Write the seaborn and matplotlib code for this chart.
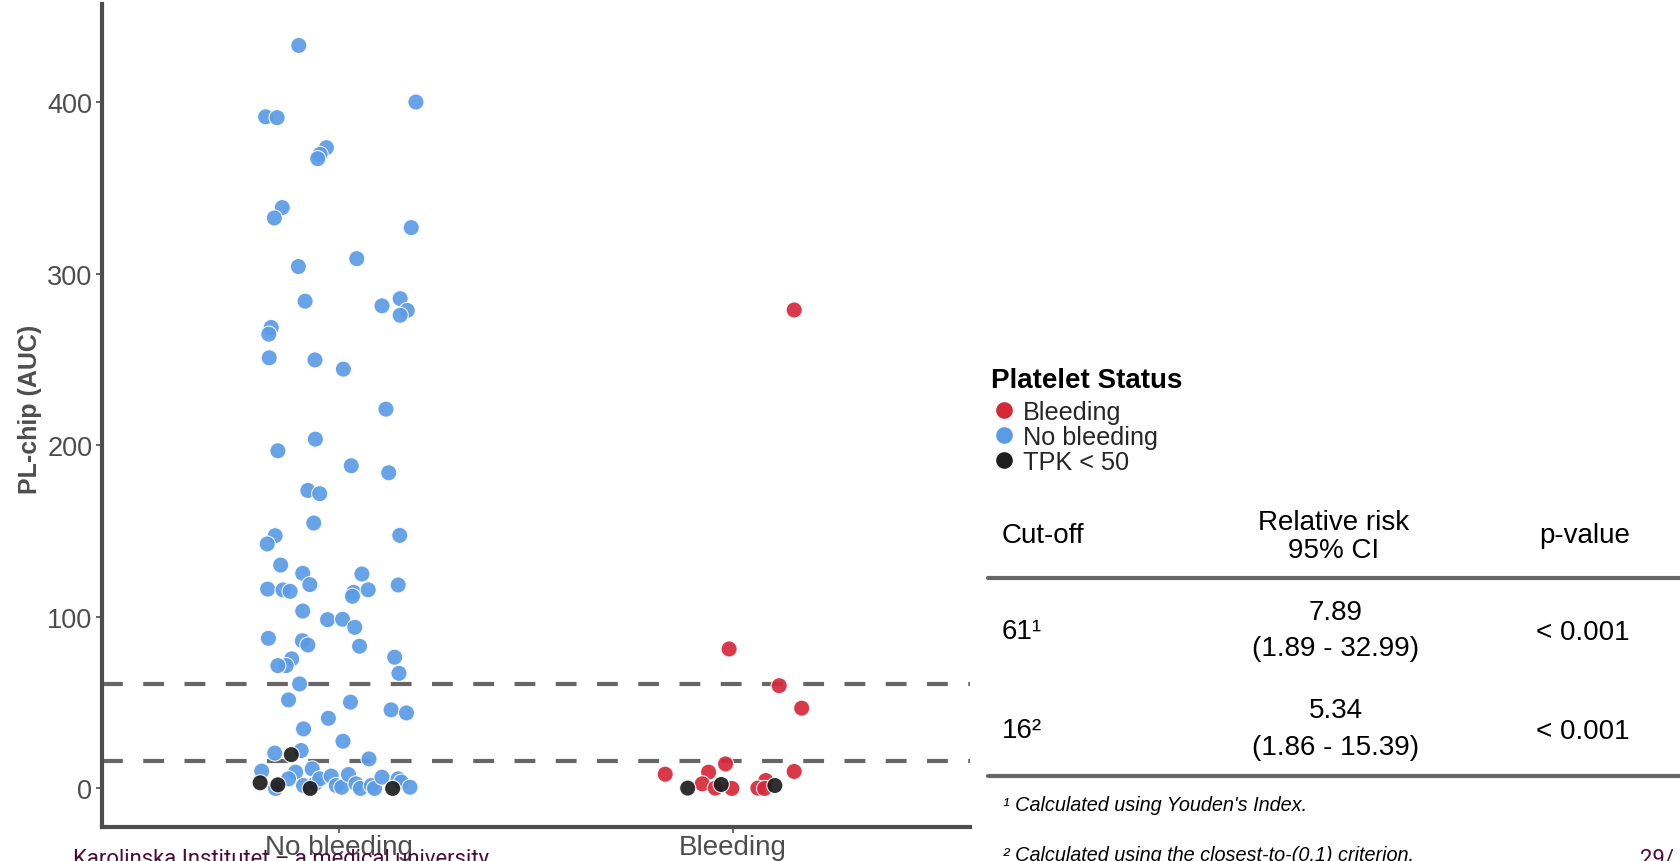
import matplotlib
matplotlib.use("Agg")
import matplotlib.pyplot as plt
import seaborn as sns
import pandas as pd

# ---- data -------------------------------------------------------------
categories = ["No bleeding", "Bleeding"]
status_order = ["Bleeding", "No bleeding", "TPK < 50"]
status_colors = ["#D7283A", "#5B9BE6", "#1E1E1E"]

# PL-chip AUC values and horizontal jitter (in category units)
# Group "No bleeding", platelet status "No bleeding"
nb_auc = [433.1, 391.5, 391.0, 400.1, 373.5, 369.6, 367.1, 338.6, 332.5, 326.9,
          308.8, 304.2, 284.0, 281.3, 285.5, 278.6, 275.8, 268.7, 264.8, 251.0,
          249.8, 244.4,
          221.1, 203.6, 196.8, 188.1, 184.0, 173.7, 171.8, 154.7, 147.3, 142.5,
          147.5, 130.2, 125.4, 125.0, 118.8, 116.2, 115.7, 114.9, 114.3, 112.0,
          115.8, 118.6, 103.4, 98.4, 98.6, 93.9, 87.5, 86.1, 83.6, 82.9,
          75.5, 71.6, 71.6, 76.5, 67.1, 60.9, 51.6, 50.3, 45.8, 44.0,
          40.9, 34.7, 27.5, 20.6, 22.1, 17.2, 10.1, 9.5, 11.4,
          0.0, 5.6, 1.7, 2.7, 5.6, 7.2, 1.7, 0.7, 8.1, 2.7,
          0.0, 1.7, 0.0, 6.6, 5.6, 3.7, 0.7]
nb_jit = [-0.101, -0.185, -0.156, 0.196, -0.031, -0.047, -0.053, -0.143, -0.163, 0.184,
          0.046, -0.102, -0.085, 0.110, 0.156, 0.174, 0.156, -0.171, -0.177, -0.176,
          -0.060, 0.012,
          0.120, -0.059, -0.154, 0.032, 0.127, -0.078, -0.048, -0.063, -0.161, -0.181,
          0.155, -0.147, -0.091, 0.059, -0.073, -0.180, -0.141, -0.123, 0.038, 0.035,
          0.075, 0.151, -0.091, -0.028, 0.010, 0.041, -0.178, -0.092, -0.078, 0.053,
          -0.119, -0.133, -0.154, 0.142, 0.153, -0.099, -0.127, 0.030, 0.133, 0.172,
          -0.026, -0.089, 0.011, -0.162, -0.095, 0.077, -0.195, -0.109, -0.067,
          -0.160, -0.127, -0.089, -0.060, -0.048, -0.019, -0.006, 0.008, 0.025, 0.044,
          0.055, 0.083, 0.091, 0.110, 0.151, 0.159, 0.181]

# Group "No bleeding", platelet count below 50
nb_tpk_auc = [3.3, 2.1, 19.7, 0.0, 0.0]
nb_tpk_jit = [-0.199, -0.154, -0.120, -0.072, 0.137]

# Group "Bleeding", platelet status "Bleeding"
bl_auc = [278.9, 81.3, 59.9, 46.8, 14.3, 8.3, 9.5, 9.9, 2.7, 0.2, 0.0, 4.6, 0.2, 0.0]
bl_jit = [0.155, -0.010, 0.117, 0.174, -0.019, -0.172, -0.062, 0.155, -0.078, -0.045,
          -0.003, 0.083, 0.063, 0.080]

# Group "Bleeding", platelet count below 50
bl_tpk_auc = [0.2, 2.3, 1.7]
bl_tpk_jit = [-0.115, -0.030, 0.106]

cutoffs = [61, 16]

# Table beside the plot
table_header = ["Cut-off", "Relative risk\n95% CI", "p-value"]
table_cut = ["61¹", "16²"]
table_rr = ["7.89\n(1.89 - 32.99)", "5.34\n(1.86 - 15.39)"]
table_p = ["< 0.001", "< 0.001"]
footnotes = ["¹ Calculated using Youden's Index.",
             "² Calculated using the closest-to-(0,1) criterion."]

# ---- assemble -----------------------------------------------------------
def block(group, status, auc, jit):
    return pd.DataFrame({"group": group, "status": status, "auc": auc, "jit": jit})

df = pd.concat([
    block("No bleeding", "No bleeding", nb_auc, nb_jit),
    block("No bleeding", "TPK < 50", nb_tpk_auc, nb_tpk_jit),
    block("Bleeding", "Bleeding", bl_auc, bl_jit),
    block("Bleeding", "TPK < 50", bl_tpk_auc, bl_tpk_jit),
], ignore_index=True)
df["xpos"] = df["group"].map({c: i for i, c in enumerate(categories)}) + df["jit"]

# ---- figure -------------------------------------------------------------
sns.set_theme(style="white")
plt.rcParams["font.family"] = ["Liberation Sans", "DejaVu Sans"]

fig = plt.figure(figsize=(16.8, 8.62), dpi=100)
ax = fig.add_axes([0.0607, 0.0394, 0.5165, 0.9543])

palette = dict(zip(status_order, status_colors))
sns.scatterplot(data=df, x="xpos", y="auc", hue="status", hue_order=status_order,
                palette=palette, s=135, alpha=0.92, edgecolor="white",
                linewidth=0.8, ax=ax, zorder=3, legend=True)

for c in cutoffs:
    ax.axhline(c, color="#666666", lw=3.0, ls=(0, (5.0, 4.9)), zorder=2)

ax.set_xlim(-0.6, 1.6)
ax.set_ylim(-22.5, 457)
ax.set_xticks(range(len(categories)))
ax.set_xticklabels(categories)
ax.set_yticks([0, 100, 200, 300, 400])
ax.set_xlabel("")
ax.set_ylabel("PL-chip (AUC)", fontsize=18, fontweight="bold", color="#4D4D4D")
ax.yaxis.set_label_coords(-0.069, 0.509)

for side in ["top", "right"]:
    ax.spines[side].set_visible(False)
for side in ["left", "bottom"]:
    ax.spines[side].set_color("#4D4D4D")
    ax.spines[side].set_linewidth(3.0)
ax.tick_params(axis="both", colors="#4D4D4D", length=4, width=1.2,
               direction="out", bottom=True, left=True)
ax.tick_params(axis="y", pad=3, labelsize=19.5)
ax.tick_params(axis="x", pad=1, labelsize=20)

# ---- helpers for figure-pixel placement ----------------------------------
def fx(px):
    return px / 1680.0

def fy(py):
    return 1.0 - py / 862.0

# Legend outside, to the right of the axes
handles, labels = ax.get_legend_handles_labels()
ax.legend_.remove()
for h in handles:
    h.set_alpha(1.0)
    h.set_markeredgecolor("none")
    h.set_markersize(12)
fig.text(fx(991), fy(381), "Platelet Status", ha="left", va="center",
         fontsize=20, fontweight="bold", color="black")
leg = fig.legend(handles, labels, loc="upper left",
                 bbox_to_anchor=(fx(993), fy(401)), frameon=False, fontsize=18.2,
                 labelspacing=0.03, handletextpad=0.3,
                 handlelength=0.9, borderpad=0, borderaxespad=0)

# ---- table --------------------------------------------------------------
tkw = dict(fontsize=20, color="black", transform=fig.transFigure)
fig.text(fx(1002), fy(536), table_header[0], ha="left", va="center", **tkw)
fig.text(fx(1334), fy(537), table_header[1], ha="center", va="center",
         linespacing=1.08, **tkw)
fig.text(fx(1585), fy(536), table_header[2], ha="center", va="center", **tkw)

row_y = [631, 730]
for y, cut, rr, p in zip(row_y, table_cut, table_rr, table_p):
    fig.text(fx(1002), fy(y + 1), cut, ha="left", va="center", **tkw)
    fig.text(fx(1336), fy(y), rr, ha="center", va="center", linespacing=1.55, **tkw)
    fig.text(fx(1583), fy(y + 2), p, ha="center", va="center", **tkw)

for y in [579, 777]:
    fig.add_artist(plt.Line2D([fx(988), 1.0], [fy(y), fy(y)], color="#666666",
                              lw=3.0, transform=fig.transFigure))

fig.text(fx(1003), fy(806), footnotes[0], ha="left", va="center", fontsize=14.3,
         style="italic", color="black")
fig.text(fx(1003), fy(856), footnotes[1], ha="left", va="center", fontsize=14.3,
         style="italic", color="black")

# Slide footer
fig.text(fx(73), fy(860), "Karolinska Institutet \u2013 a medical university",
         ha="left", va="center", fontsize=15.8, color="#4F0A3A",
         family=["Roboto", "DejaVu Sans"])
fig.text(fx(1640), fy(860), "29/", ha="left", va="center", fontsize=15.8,
         color="#4F0A3A", family=["Roboto", "DejaVu Sans"])

fig.savefig("out.png", dpi=100)
